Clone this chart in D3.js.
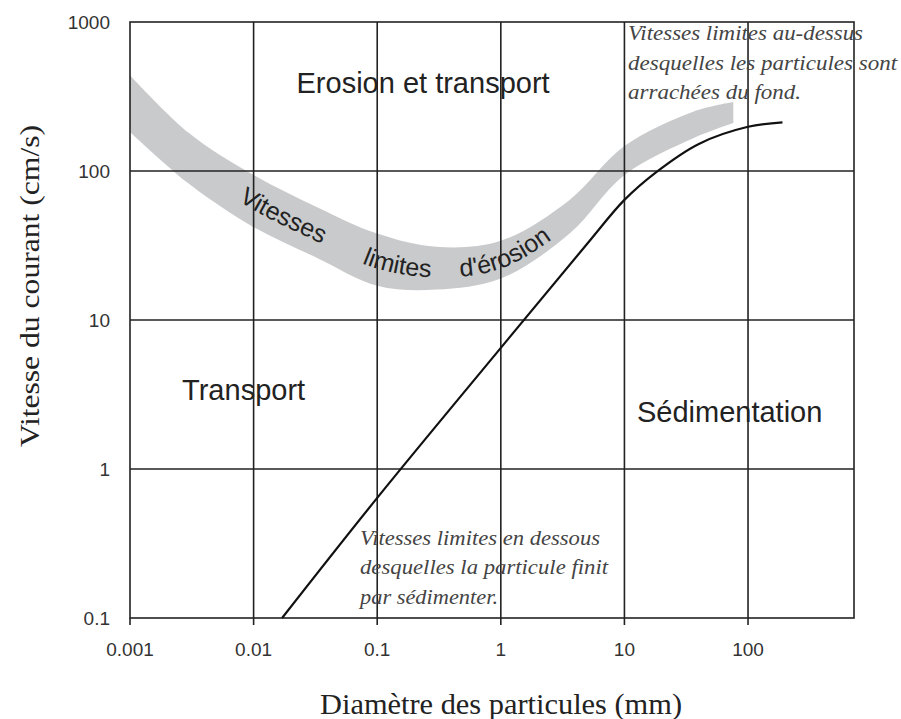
<!DOCTYPE html>
<html>
<head>
<meta charset="utf-8">
<script src="https://cdn.jsdelivr.net/npm/d3@7"></script>
<style>
  body { margin: 0; background: #fff; }
  svg { display: block; }
  .sans { font-family: "Liberation Sans", Arial, sans-serif; }
  .serif { font-family: "Liberation Serif", "Times New Roman", serif; }
</style>
</head>
<body>
<script>
const width = 901;
const height = 719;

// axes
const xTicks = [0.001, 0.01, 0.1, 1, 10, 100];
const xTickLabels = ['0.001', '0.01', '0.1', '1', '10', '100'];
const yTicks = [0.1, 1, 10, 100, 1000];
const yTickLabels = ['0.1', '1', '10', '100', '1000'];
const xMax = 720; // frame goes a bit past 100 mm

// erosion band (diametre mm, vitesse cm/s)
const bandX = [0.001, 0.003, 0.01, 0.033, 0.1, 0.3, 1, 3.6, 10, 36, 76];
const bandTop = [440, 180, 94, 57, 38, 31, 34, 64, 147, 250, 290];
const bandBottom = [183, 82, 42, 26, 17, 16, 19, 38, 94, 166, 210];

// sedimentation line
const lineX = [0.017, 0.1, 1, 5, 10, 18, 40, 100, 190];
const lineV = [0.1, 0.64, 6.5, 32.5, 64, 98, 152, 198, 212];

// text on the band
const bandWords = ['Vitesses', 'limites', "d'érosion"];
const bandWordsAt = [0.0075, 0.075, 0.47];

const regions = [
  { text: 'Erosion et transport', x: 0.235, y: 333 },
  { text: 'Transport', x: 0.0083, y: 2.9 },
  { text: 'Sédimentation', x: 71, y: 2.07 },
];

const notes = [
  { x: 10.7, y: 757, lines: ['Vitesses limites au-dessus', 'desquelles les particules sont', 'arrachées du fond.'], widths: [235, 269, 173] },
  { x: 0.0726, y: 0.309, lines: ['Vitesses limites en dessous', 'desquelles la particule finit', 'par sédimenter.'], widths: [240, 248, 138] },
];

const x = d3.scaleLog().domain([0.001, xMax]).range([130, 854]);
const y = d3.scaleLog().domain([0.1, 1000]).range([618, 22]);

const curve = d3.curveCatmullRom.alpha(0.5);

const svg = d3.select('body')
  .append('svg')
    .attr('width', width)
    .attr('height', height);

// band
const band = bandX.map((d, i) => ({ x: d, top: bandTop[i], bottom: bandBottom[i] }));

svg.append('path')
  .datum(band)
  .attr('fill', '#c9cacc')
  .attr('d', d3.area()
    .x((d) => x(d.x))
    .y0((d) => y(d.bottom))
    .y1((d) => y(d.top))
    .curve(curve));

// grid + frame
svg.append('g')
  .selectAll('line')
  .data(xTicks.slice(1))
  .join('line')
    .attr('x1', (d) => x(d)).attr('x2', (d) => x(d))
    .attr('y1', y(1000)).attr('y2', y(0.1))
    .attr('stroke', '#222').attr('stroke-width', 1.6);

svg.append('g')
  .selectAll('line')
  .data(yTicks.slice(1, -1))
  .join('line')
    .attr('x1', x(0.001)).attr('x2', x(xMax))
    .attr('y1', (d) => y(d)).attr('y2', (d) => y(d))
    .attr('stroke', '#222').attr('stroke-width', 1.6);

svg.append('rect')
  .attr('x', x(0.001)).attr('y', y(1000))
  .attr('width', x(xMax) - x(0.001))
  .attr('height', y(0.1) - y(1000))
  .attr('fill', 'none').attr('stroke', '#222').attr('stroke-width', 1.6);

// x ticks
svg.append('g')
  .selectAll('line')
  .data(xTicks)
  .join('line')
    .attr('x1', (d) => x(d)).attr('x2', (d) => x(d))
    .attr('y1', y(0.1)).attr('y2', y(0.1) + 7)
    .attr('stroke', '#222').attr('stroke-width', 1.6);

svg.append('g')
  .attr('class', 'sans')
  .selectAll('text')
  .data(xTicks)
  .join('text')
    .attr('x', (d) => x(d))
    .attr('y', y(0.1) + 38)
    .attr('text-anchor', 'middle')
    .attr('font-size', 19)
    .attr('fill', '#333')
    .text((d, i) => xTickLabels[i]);

svg.append('g')
  .attr('class', 'sans')
  .selectAll('text')
  .data(yTicks)
  .join('text')
    .attr('x', x(0.001) - 20)
    .attr('y', (d) => y(d) + 7)
    .attr('text-anchor', 'end')
    .attr('font-size', 19)
    .attr('fill', '#333')
    .text((d, i) => yTickLabels[i]);

// sedimentation line
svg.append('path')
  .datum(lineX.map((d, i) => [d, lineV[i]]))
  .attr('fill', 'none')
  .attr('stroke', '#111')
  .attr('stroke-width', 2.2)
  .attr('d', d3.line()
    .x((d) => x(d[0]))
    .y((d) => y(d[1]))
    .curve(curve));

// text along band
const midLine = d3.line()
  .x((d) => x(d.x))
  .y((d) => (y(d.top) + y(d.bottom)) / 2 + 9)
  .curve(curve);

const mid = svg.append('defs').append('path')
  .attr('id', 'band-mid')
  .attr('d', midLine(band));

const lengthAtX = (node, px) => {
  let lo = 0;
  let hi = node.getTotalLength();
  for (let i = 0; i < 30; i++) {
    const m = (lo + hi) / 2;
    if (node.getPointAtLength(m).x < px) lo = m; else hi = m;
  }
  return lo;
};

const bandText = svg.append('text')
  .attr('class', 'sans')
  .attr('font-size', 25)
  .attr('fill', '#222');

bandWords.forEach((w, i) => {
  bandText.append('textPath')
    .attr('href', '#band-mid')
    .attr('startOffset', lengthAtX(mid.node(), x(bandWordsAt[i])))
    .text(w);
});

// region labels
svg.append('g')
  .attr('class', 'sans')
  .selectAll('text')
  .data(regions)
  .join('text')
    .attr('x', (d) => x(d.x))
    .attr('y', (d) => y(d.y))
    .attr('text-anchor', 'middle')
    .attr('font-size', 29)
    .attr('fill', '#222')
    .text((d) => d.text);

// italic notes
notes.forEach((n) => {
  const t = svg.append('text')
    .attr('class', 'serif')
    .attr('font-style', 'italic')
    .attr('font-size', 20)
    .attr('fill', '#444');
  n.lines.forEach((l, i) => {
    t.append('tspan')
      .attr('x', x(n.x))
      .attr('y', y(n.y) + i * 29.5)
      .attr('textLength', n.widths[i])
      .attr('lengthAdjust', 'spacingAndGlyphs')
      .text(l);
  });
});

// axis titles
svg.append('text')
  .attr('class', 'serif')
  .attr('x', 501)
  .attr('y', 714)
  .attr('text-anchor', 'middle')
  .attr('font-size', 29)
  .attr('textLength', 362)
  .attr('lengthAdjust', 'spacingAndGlyphs')
  .attr('fill', '#222')
  .text('Diamètre des particules (mm)');

svg.append('text')
  .attr('class', 'serif')
  .attr('transform', 'translate(39, 286) rotate(-90)')
  .attr('text-anchor', 'middle')
  .attr('font-size', 28)
  .attr('textLength', 322)
  .attr('lengthAdjust', 'spacingAndGlyphs')
  .attr('fill', '#222')
  .text('Vitesse du courant (cm/s)');
</script>
</body>
</html>
